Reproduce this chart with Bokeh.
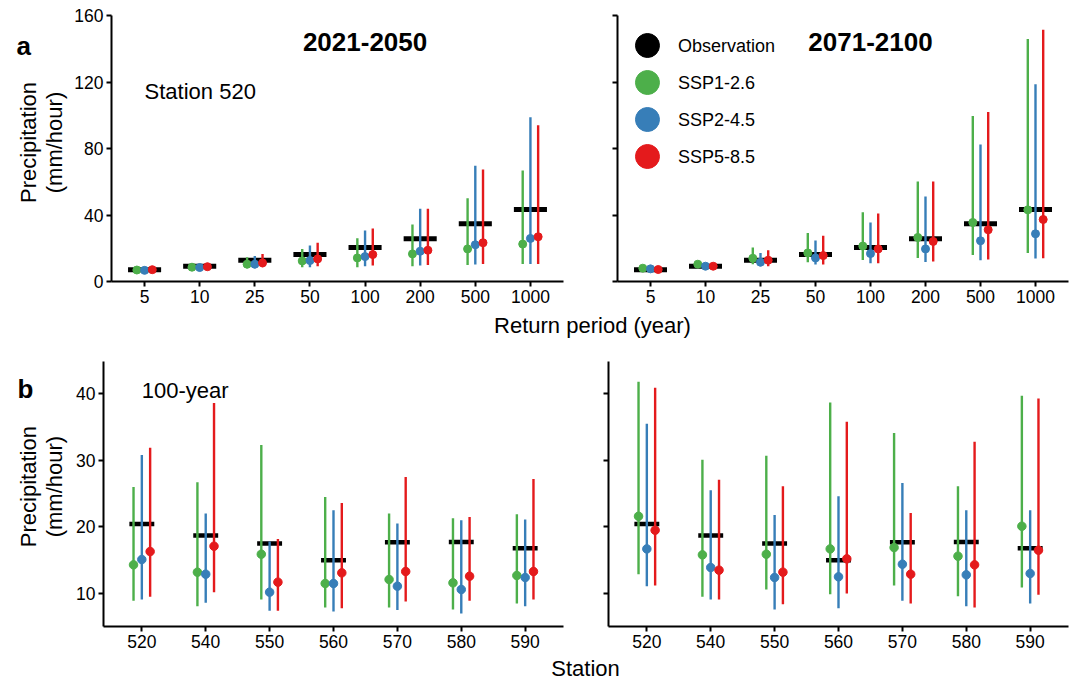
from bokeh.plotting import figure
from bokeh.layouts import column, row
from bokeh.models import (FactorRange, Range1d, FixedTicker, Label,
                          ColumnDataSource)
from bokeh.core.properties import value
from bokeh.transform import dodge
from bokeh.embed import file_html
from bokeh.resources import INLINE
import math

# ---------------- data ----------------
periods = ["5", "10", "25", "50", "100", "200", "500", "1000"]
obs_a = [7.0, 9.2, 12.8, 16.2, 20.5, 25.7, 34.7, 43.3]

# 2021-2050, station 520
a1_ssp126_mid = [6.9, 8.6, 10.4, 12.4, 14.2, 16.6, 19.6, 22.5]
a1_ssp126_lo = [6.0, 7.8, 8.0, 8.6, 8.6, 9.2, 10.0, 10.6]
a1_ssp126_hi = [7.8, 9.4, 14.6, 19.6, 26.0, 34.3, 50.1, 66.8]
a1_ssp245_mid = [6.7, 8.4, 10.4, 12.6, 15.0, 18.2, 22.1, 25.9]
a1_ssp245_lo = [5.9, 7.6, 8.0, 8.6, 9.2, 9.6, 10.2, 10.6]
a1_ssp245_hi = [7.6, 9.2, 15.4, 21.7, 30.7, 43.7, 69.6, 98.8]
a1_ssp585_mid = [7.1, 8.9, 11.2, 13.6, 16.2, 18.8, 23.3, 26.9]
a1_ssp585_lo = [6.3, 8.1, 8.6, 9.2, 9.6, 10.0, 10.6, 10.6]
a1_ssp585_hi = [8.0, 9.8, 16.6, 23.3, 31.9, 43.7, 67.4, 94.0]

# 2071-2100, station 520
a2_ssp126_mid = [8.0, 10.4, 14.0, 17.2, 21.3, 26.5, 35.5, 43.1]
a2_ssp126_lo = [7.0, 9.4, 10.4, 11.6, 13.0, 14.2, 16.0, 17.2]
a2_ssp126_hi = [9.0, 11.4, 20.5, 29.1, 41.7, 60.2, 99.6, 145.8]
a2_ssp245_mid = [7.6, 9.2, 11.6, 14.2, 16.8, 19.6, 24.5, 28.7]
a2_ssp245_lo = [6.8, 8.4, 9.2, 10.2, 11.0, 11.8, 12.8, 13.8]
a2_ssp245_hi = [8.4, 10.0, 17.2, 24.7, 35.5, 51.1, 82.4, 118.7]
a2_ssp585_mid = [7.2, 9.2, 12.8, 15.6, 19.6, 24.1, 31.1, 37.3]
a2_ssp585_lo = [6.4, 8.4, 9.2, 10.2, 11.0, 12.0, 13.2, 14.0]
a2_ssp585_hi = [8.0, 10.0, 18.8, 27.5, 40.9, 60.2, 101.9, 151.4]

stations = ["520", "540", "550", "560", "570", "580", "590"]
obs_b = [20.45, 18.7, 17.5, 15.0, 17.7, 17.75, 16.8]

# 100-year, 2021-2050
b1_ssp126_mid = [14.3, 13.2, 15.9, 11.5, 12.1, 11.6, 12.7]
b1_ssp126_lo = [8.9, 8.1, 9.1, 7.9, 7.9, 7.6, 8.5]
b1_ssp126_hi = [26.0, 26.7, 32.3, 24.5, 22.0, 21.3, 21.9]
b1_ssp245_mid = [15.1, 12.9, 10.2, 11.5, 11.1, 10.6, 12.4]
b1_ssp245_lo = [9.1, 8.6, 7.4, 7.3, 7.5, 7.0, 8.1]
b1_ssp245_hi = [30.8, 22.0, 17.8, 22.5, 20.5, 21.0, 21.1]
b1_ssp585_mid = [16.3, 17.1, 11.7, 13.1, 13.3, 12.6, 13.3]
b1_ssp585_lo = [9.5, 10.2, 7.4, 7.8, 8.8, 8.9, 9.1]
b1_ssp585_hi = [31.9, 38.6, 18.2, 23.6, 27.5, 21.5, 27.2]

# 100-year, 2071-2100
b2_ssp126_mid = [21.6, 15.8, 15.9, 16.7, 16.9, 15.6, 20.1]
b2_ssp126_lo = [12.9, 9.5, 10.6, 9.9, 11.2, 9.6, 10.9]
b2_ssp126_hi = [41.8, 30.1, 30.7, 38.7, 34.1, 26.1, 39.7]
b2_ssp245_mid = [16.7, 13.9, 12.4, 12.5, 14.4, 12.8, 13.0]
b2_ssp245_lo = [11.1, 9.1, 7.6, 7.8, 8.9, 8.1, 8.5]
b2_ssp245_hi = [35.5, 25.5, 21.8, 24.6, 26.6, 22.5, 22.5]
b2_ssp585_mid = [19.5, 13.5, 13.2, 15.2, 12.9, 14.3, 16.5]
b2_ssp585_lo = [11.2, 9.1, 8.4, 10.0, 8.5, 7.9, 9.8]
b2_ssp585_hi = [40.9, 27.1, 26.1, 35.8, 22.1, 32.8, 39.3]

legend_labels = ["Observation", "SSP1-2.6", "SSP2-4.5", "SSP5-8.5"]
legend_colors = ["black", "#4DAF4A", "#377EB8", "#E41A1C"]
colors = legend_colors[1:]

FONT = "Liberation Sans"


def make_panel(width, height, factors, yr, yticks, bl, br, bt, bb, ylabels,
               obs, series, dodge_w, bar_half, point_size, err_w, bar_w):
    p = figure(width=width, height=height, title=None,
               x_range=FactorRange(factors=factors, range_padding=0.1,
                                   range_padding_units="absolute"),
               y_range=Range1d(*yr), output_backend="svg",
               toolbar_location=None, min_border_left=bl, min_border_right=br,
               min_border_top=bt, min_border_bottom=bb)
    p.outline_line_color = None
    p.xgrid.visible = False
    p.ygrid.visible = False
    for ax in (p.xaxis[0], p.yaxis[0]):
        ax.axis_line_width = 2
        ax.axis_line_color = "black"
        ax.major_tick_line_width = 2
        ax.major_tick_line_color = "black"
        ax.major_tick_out = 5
        ax.major_tick_in = 0
        ax.minor_tick_line_color = None
        ax.major_label_text_font = FONT
        ax.major_label_text_font_size = "17.5px"
        ax.major_label_text_color = "black"
        ax.major_label_standoff = 3
    p.yaxis[0].ticker = FixedTicker(ticks=yticks, minor_ticks=[])
    if not ylabels:
        p.yaxis[0].major_label_overrides = {t: "" for t in yticks}

    src = ColumnDataSource(dict(cat=factors, obs=obs))
    p.segment(x0=dodge("cat", -bar_half, range=p.x_range), y0="obs",
              x1=dodge("cat", bar_half, range=p.x_range), y1="obs",
              source=src, line_color="black", line_width=bar_w,
              line_cap="butt")
    offs = [-dodge_w, 0.0, dodge_w]
    for (mid, lo, hi), col, off in zip(series, colors, offs):
        s = ColumnDataSource(dict(cat=factors, mid=mid, lo=lo, hi=hi))
        xd = dodge("cat", off, range=p.x_range)
        p.segment(x0=xd, y0="lo", x1=xd, y1="hi", source=s, line_color=col,
                  line_width=err_w, line_cap="butt")
        p.scatter(x=xd, y="mid", source=s, size=point_size,
                  fill_color=col, line_color=col)
    return p


def lab(p, x, y, text, size, bold=False, align="left", baseline="alphabetic",
        angle=0.0):
    p.add_layout(Label(x=x, y=y, text=text, text_font=FONT,
                       text_font_size=size, angle=angle,
                       text_font_style="bold" if bold else "normal",
                       text_align=align, text_baseline=baseline,
                       text_color="black"))


def strip(width, height):
    p = figure(width=width, height=height, x_range=Range1d(0, width),
               y_range=Range1d(0, height), output_backend="svg",
               toolbar_location=None, x_axis_type=None, y_axis_type=None,
               min_border=0, title=None)
    p.outline_line_color = None
    p.xgrid.visible = False
    p.ygrid.visible = False
    return p


a_series1 = [(a1_ssp126_mid, a1_ssp126_lo, a1_ssp126_hi),
             (a1_ssp245_mid, a1_ssp245_lo, a1_ssp245_hi),
             (a1_ssp585_mid, a1_ssp585_lo, a1_ssp585_hi)]
a_series2 = [(a2_ssp126_mid, a2_ssp126_lo, a2_ssp126_hi),
             (a2_ssp245_mid, a2_ssp245_lo, a2_ssp245_hi),
             (a2_ssp585_mid, a2_ssp585_lo, a2_ssp585_hi)]
b_series1 = [(b1_ssp126_mid, b1_ssp126_lo, b1_ssp126_hi),
             (b1_ssp245_mid, b1_ssp245_lo, b1_ssp245_hi),
             (b1_ssp585_mid, b1_ssp585_lo, b1_ssp585_hi)]
b_series2 = [(b2_ssp126_mid, b2_ssp126_lo, b2_ssp126_hi),
             (b2_ssp245_mid, b2_ssp245_lo, b2_ssp245_hi),
             (b2_ssp585_mid, b2_ssp585_lo, b2_ssp585_hi)]

a_ticks = [0, 40, 80, 120, 160]
b_ticks = [10, 20, 30, 40]

STRIP_W = 70
HA, HB = 310, 305
pa1 = make_panel(570 - STRIP_W, HA, periods, (0, 160), a_ticks, 111 - STRIP_W,
                 7, 15, 29, True, obs_a, a_series1, 0.14, 0.3, 8, 2.4, 5)
pa2 = make_panel(504, HA, periods, (0, 160), a_ticks, 47, 6, 15, 29, False,
                 obs_a, a_series2, 0.14, 0.3, 8, 2.4, 5)
pb1 = make_panel(570 - STRIP_W, HB, stations, (5.04, 44.85), b_ticks,
                 103 - STRIP_W, 7, 11, 29, True, obs_b, b_series1, 0.13, 0.195,
                 8.5, 2.4, 4.5)
pb2 = make_panel(504, HB, stations, (5.04, 44.85), b_ticks, 38, 6, 11, 29,
                 False, obs_b, b_series2, 0.13, 0.195, 8.5, 2.4, 4.5)

# left strips: panel letters and y-axis titles (y measured from strip bottom)
sa = strip(STRIP_W, HA)
lab(sa, 16, HA - 35, "a", "26px", bold=True)
lab(sa, 28, HA - 148, "Precipitation", "22px", align="center",
    baseline="middle", angle=math.pi / 2)
lab(sa, 54, HA - 148, "(mm/hour)", "22px", align="center",
    baseline="middle", angle=math.pi / 2)

sb = strip(STRIP_W, HB)
lab(sb, 17, HB - 32, "b", "26px", bold=True)
lab(sb, 28, HB - 144, "Precipitation", "22px", align="center",
    baseline="middle", angle=math.pi / 2)
lab(sb, 54, HB - 144, "(mm/hour)", "22px", align="center",
    baseline="middle", angle=math.pi / 2)

# in-panel annotations
lab(pa1, 4.5, 143.8, "2021-2050", "26px", bold=True, align="center")
lab(pa2, 4.5, 143.8, "2071-2100", "26px", bold=True, align="center")
lab(pa1, 0.5, 114.5, "Station 520", "22px")
lab(pb1, 0.5, 40.5, "100-year", "22px")

# legend (top-left of the 2071-2100 panel): 24 px dots, 37 px apart
frame_h = HA - 15 - 29
px2y = 160.0 / frame_h
leg_y = [160 - (30 + 37 * i) * px2y for i in range(len(legend_labels))]
leg_src = ColumnDataSource(dict(x=[0.445] * 4, tx=[1.0] * 4, y=leg_y,
                                label=legend_labels, color=legend_colors))
pa2.scatter(x="x", y="y", size=24, fill_color="color", line_color="color",
            source=leg_src)
pa2.text(x="tx", y="y", text="label", source=leg_src,
         text_font=value(FONT), text_font_size="18px",
         text_baseline="middle", text_align="left", text_color="black")

# shared x-axis titles
xl1 = strip(1074, 40)
lab(xl1, 592, 25, "Return period (year)", "22px", align="center",
    baseline="middle")
xl2 = strip(1074, 26)
lab(xl2, 585, 13, "Station", "22px", align="center", baseline="middle")

layout = column(row(sa, pa1, pa2), xl1, row(sb, pb1, pb2), xl2)
open("out.html", "w").write(file_html(layout, INLINE))
